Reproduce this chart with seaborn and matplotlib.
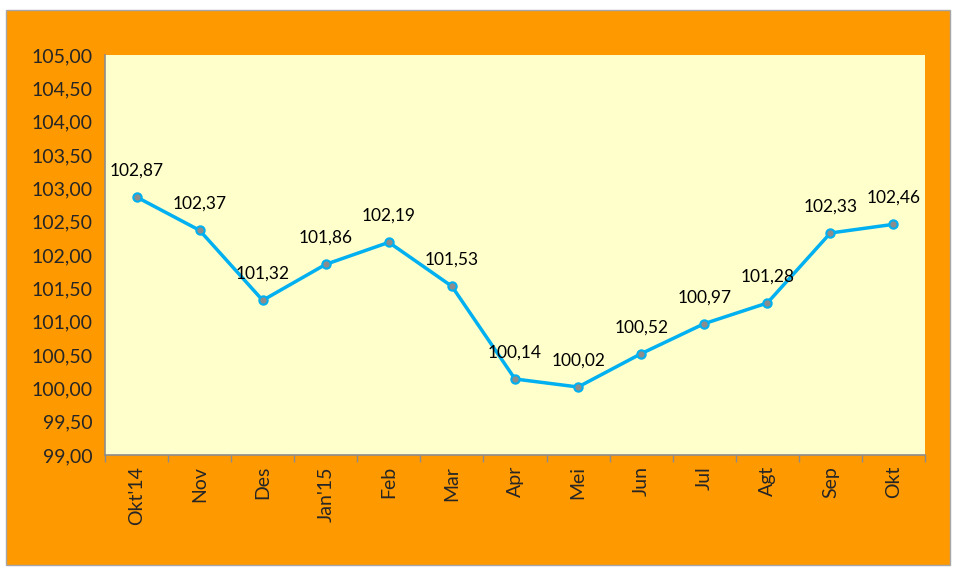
import matplotlib
matplotlib.use("Agg")
import matplotlib.pyplot as plt
import seaborn as sns
import pandas as pd
from matplotlib.patches import Rectangle
from matplotlib.ticker import FixedLocator, FuncFormatter

# data
bulan = ["Okt'14", "Nov", "Des", "Jan'15", "Feb", "Mar", "Apr", "Mei",
         "Jun", "Jul", "Agt", "Sep", "Okt"]
nilai = [102.87, 102.37, 101.32, 101.86, 102.19, 101.53, 100.14, 100.02,
         100.52, 100.97, 101.28, 102.33, 102.46]

df = pd.DataFrame({"bulan": bulan, "nilai": nilai, "pos": range(len(bulan))})

sns.set_style("white")
plt.rcParams["font.family"] = ["Lato", "DejaVu Sans"]

fig = plt.figure(figsize=(9.55, 5.70), dpi=100)
fig.patch.set_facecolor("white")
# orange chart area with thin grey border
fig.patches.append(Rectangle((6 / 955, 1 - 565 / 570), 944 / 955, 555 / 570,
                             transform=fig.transFigure, facecolor="#FF9900",
                             edgecolor="#A6A6A6", linewidth=1, zorder=-10))

ax = fig.add_axes([105 / 955, 1 - 455 / 570, 820 / 955, 400 / 570])
ax.set_facecolor("#FFFFCC")

sns.lineplot(data=df, x="pos", y="nilai", ax=ax, color="#00B0F0", linewidth=2.5,
             marker="o", markersize=6, markerfacecolor="#8C8C8C",
             markeredgecolor="#00B0F0", markeredgewidth=1.5)

for x, y in zip(df["pos"], df["nilai"]):
    ax.annotate(f"{y:.2f}".replace(".", ","), (x, y), xytext=(0, 19),
                textcoords="offset points", ha="center", va="center",
                fontsize=12.5, color="black")

ax.set_xlim(-0.5, len(bulan) - 0.5)
ax.set_ylim(99, 105)
ax.set_yticks([99 + 0.5 * i for i in range(13)])
ax.yaxis.set_major_formatter(FuncFormatter(lambda v, p: f"{v:.2f}".replace(".", ",")))

# category axis: ticks between categories, labels centred
ax.xaxis.set_major_locator(FixedLocator([i - 0.5 for i in range(len(bulan) + 1)]))
ax.xaxis.set_major_formatter(FuncFormatter(lambda v, p: ""))
ax.set_xticks(list(range(len(bulan))), minor=True)
ax.set_xticklabels(bulan, minor=True, rotation=90, fontsize=14)
ax.tick_params(axis="x", which="minor", length=0, pad=8)
ax.tick_params(axis="both", which="major", direction="out", length=5,
               color="#8C8C8C", width=1)
ax.tick_params(axis="y", labelsize=14, pad=4)
ax.tick_params(axis="x", which="major", bottom=True)

ax.set_xlabel("")
ax.set_ylabel("")
for s in ["top", "right"]:
    ax.spines[s].set_visible(False)
for s in ["left", "bottom"]:
    ax.spines[s].set_color("#8C8C8C")
    ax.spines[s].set_linewidth(1.2)

fig.savefig("out.png", dpi=100, facecolor=fig.get_facecolor())
